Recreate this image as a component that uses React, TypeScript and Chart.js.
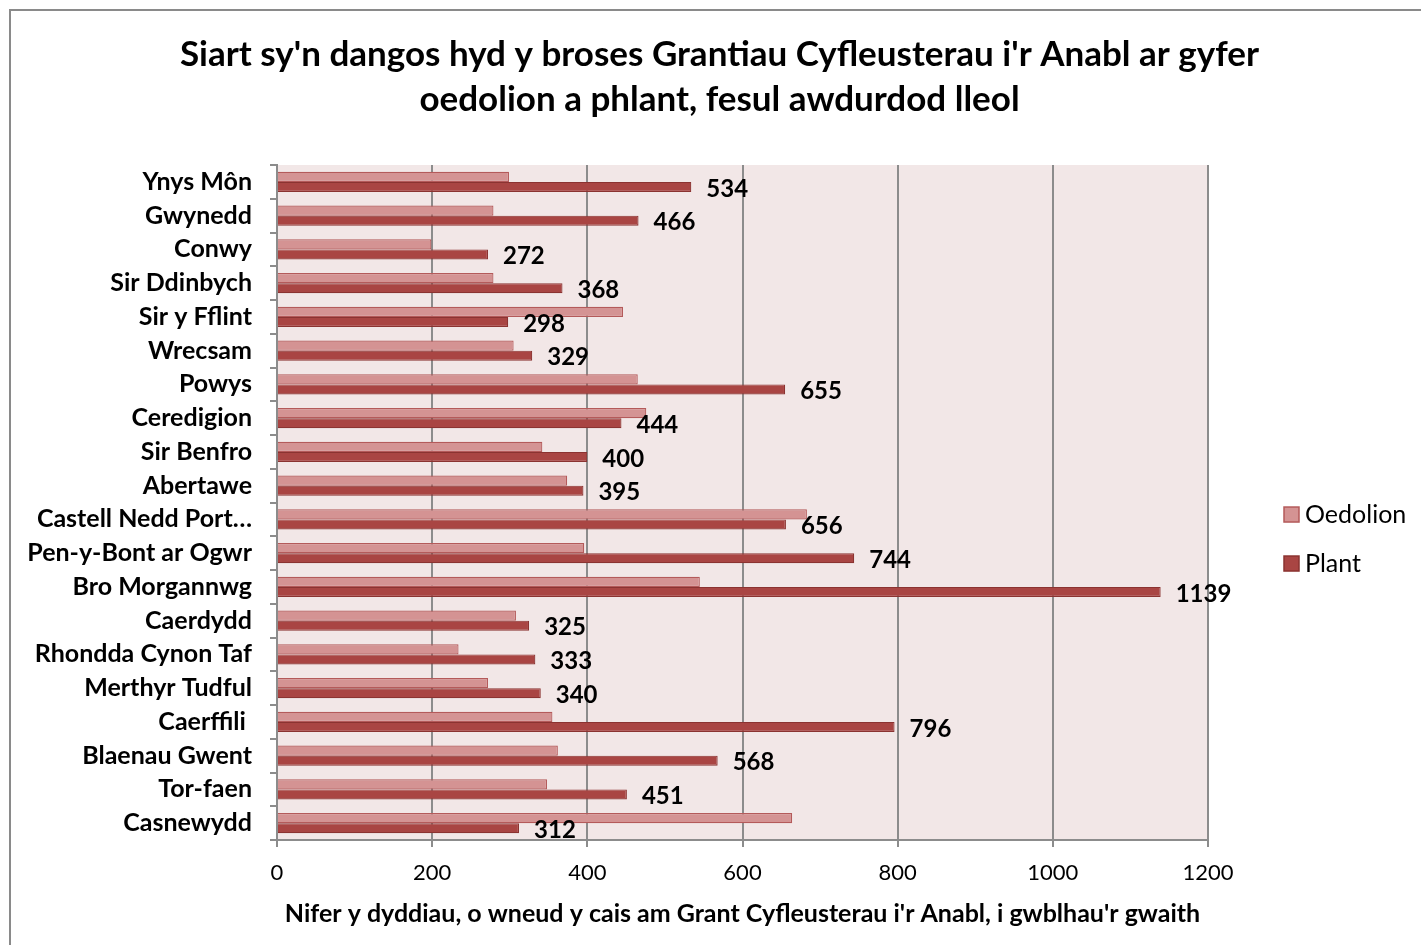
import React, { useEffect, useRef } from "react";
import { Chart, registerables } from "chart.js";

Chart.register(...registerables);

const categories = [
  "Ynys Môn",
  "Gwynedd",
  "Conwy",
  "Sir Ddinbych",
  "Sir y Fflint",
  "Wrecsam",
  "Powys",
  "Ceredigion",
  "Sir Benfro",
  "Abertawe",
  "Castell Nedd Port…",
  "Pen-y-Bont ar Ogwr",
  "Bro Morgannwg",
  "Caerdydd",
  "Rhondda Cynon Taf",
  "Merthyr Tudful",
  "Caerffili ",
  "Blaenau Gwent",
  "Tor-faen",
  "Casnewydd",
];
const oedolion = [299, 279, 199, 279, 446, 305, 465, 476, 342, 374, 683, 396, 545, 308, 234, 272, 355, 362, 348, 664];
const plant = [534, 466, 272, 368, 298, 329, 655, 444, 400, 395, 656, 744, 1139, 325, 333, 340, 796, 568, 451, 312];
const seriesNames = ["Oedolion", "Plant"];
const titleLines = [
  "Siart sy'n dangos hyd y broses Grantiau Cyfleusterau i'r Anabl ar gyfer",
  "oedolion a phlant, fesul awdurdod lleol",
];
const xAxisTitle =
  "Nifer y dyddiau, o wneud y cais am Grant Cyfleusterau i'r Anabl, i gwblhau'r gwaith";
const xMin = 0;
const xMax = 1200;
const xStep = 200;

const FONT = "Lato, 'Open Sans', sans-serif";
const GRID = "#8c8c8c";
const fills = ["#D49393", "#A94543"];
const borders = ["#B45A5A", "#8B3331"];

const CANVAS_W = 1440;
const CANVAS_H = 945;

const framePlugin = {
  id: "frameAndBg",
  beforeDraw(chart: any) {
    const { ctx, chartArea } = chart;
    ctx.save();
    ctx.fillStyle = "#F2E7E7";
    ctx.fillRect(chartArea.left, chartArea.top, chartArea.right - chartArea.left, chartArea.bottom - chartArea.top);
    ctx.strokeStyle = "#8a8a8a";
    ctx.lineWidth = 2;
    ctx.strokeRect(10, 10, chart.width + 20, chart.height + 20);
    ctx.restore();
  },
};

const labelPlugin = {
  id: "plantLabels",
  afterDatasetsDraw(chart: any) {
    const { ctx } = chart;
    const meta = chart.getDatasetMeta(1);
    const values = chart.data.datasets[1].data;
    ctx.save();
    ctx.font = `bold 24px ${FONT}`;
    ctx.fillStyle = "#000";
    ctx.textAlign = "left";
    ctx.textBaseline = "middle";
    meta.data.forEach((el: any, i: number) => {
      ctx.fillText(String(values[i]), el.x + 15, el.y + 2);
    });
    ctx.restore();
  },
};

const legendPlugin = {
  id: "sideLegend",
  afterDraw(chart: any) {
    const { ctx, chartArea } = chart;
    const x = chartArea.right + 76;
    const y0 = chartArea.top + 349;
    ctx.save();
    chart.data.datasets.forEach((ds: any, i: number) => {
      const cy = y0 + i * 49;
      ctx.fillStyle = ds.backgroundColor;
      ctx.fillRect(x, cy - 7, 15, 15);
      ctx.strokeStyle = ds.borderColor;
      ctx.lineWidth = 1.5;
      ctx.strokeRect(x, cy - 7, 15, 15);
      ctx.fillStyle = "#000";
      ctx.font = `25px ${FONT}`;
      ctx.textAlign = "left";
      ctx.textBaseline = "middle";
      ctx.fillText(ds.label, x + 21, cy + 1);
    });
    ctx.restore();
  },
};

export default function App() {
  const ref = useRef<HTMLCanvasElement | null>(null);

  useEffect(() => {
    if (!ref.current) return;
    const chart = new Chart(ref.current, {
      type: "bar",
      data: {
        labels: categories,
        datasets: [
          {
            label: seriesNames[0],
            data: oedolion,
            backgroundColor: fills[0],
            borderColor: borders[0],
            borderWidth: 1.2,
            categoryPercentage: 0.6,
            barPercentage: 1.0,
          },
          {
            label: seriesNames[1],
            data: plant,
            backgroundColor: fills[1],
            borderColor: borders[1],
            borderWidth: 1.2,
            categoryPercentage: 0.6,
            barPercentage: 1.0,
          },
        ],
      },
      options: {
        indexAxis: "y",
        responsive: false,
        animation: false,
        devicePixelRatio: 1,
        layout: { padding: { left: 10, right: 11, top: 0, bottom: 0 } },
        plugins: {
          legend: { display: false },
          tooltip: { enabled: false },
          title: {
            display: true,
            text: titleLines,
            color: "#000",
            font: { family: FONT, size: 35, weight: "bold", lineHeight: 1.286 },
            padding: { top: 32.5, bottom: 42.5 },
          },
        },
        scales: {
          x: {
            type: "linear",
            min: xMin,
            max: xMax,
            grid: { color: GRID, lineWidth: 2, tickLength: 7, drawTicks: true },
            border: { display: true, color: GRID, width: 2 },
            ticks: {
              stepSize: xStep,
              color: "#000",
              font: { family: FONT, size: 22 },
              padding: 13,
              maxRotation: 0,
              callback: (v: any) => String(v),
            },
            title: {
              display: true,
              text: xAxisTitle,
              color: "#000",
              font: { family: FONT, size: 25, weight: "bold" },
              padding: { top: 0, bottom: 16 },
            },
            afterFit(scale: any) {
              scale.height = 105;
            },
          },
          y: {
            type: "category",
            offset: true,
            grid: {
              offset: true,
              drawOnChartArea: false,
              drawTicks: true,
              tickLength: 7,
              color: GRID,
              lineWidth: 2,
            },
            border: { display: true, color: GRID, width: 2 },
            ticks: {
              color: "#000",
              font: { family: FONT, size: 25, weight: "bold" },
              padding: 18,
              autoSkip: false,
            },
            afterFit(scale: any) {
              scale.width = 267;
            },
          },
          legendSpace: {
            type: "linear",
            position: "right",
            display: true,
            grid: { display: false, drawTicks: false },
            border: { display: false },
            ticks: { display: false },
            afterFit(scale: any) {
              scale.width = 221;
            },
          },
        },
      },
      plugins: [framePlugin, labelPlugin, legendPlugin],
    } as any);
    return () => chart.destroy();
  }, []);

  return (
    <div
      style={{
        position: "fixed",
        left: 0,
        top: 0,
        width: 1421,
        height: 945,
        overflow: "hidden",
        background: "#fff",
      }}
    >
      <canvas
        ref={ref}
        width={CANVAS_W}
        height={CANVAS_H}
        style={{ display: "block", width: CANVAS_W, height: CANVAS_H }}
      />
    </div>
  );
}
